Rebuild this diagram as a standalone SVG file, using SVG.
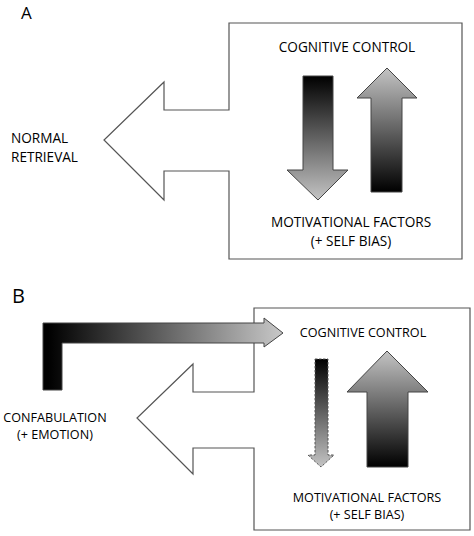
<svg xmlns="http://www.w3.org/2000/svg" width="474" height="536" viewBox="0 0 474 536">
<defs>
<linearGradient id="gDown" x1="0" y1="0" x2="0" y2="1"><stop offset="0" stop-color="#000"/><stop offset="1" stop-color="#c4c4c4"/></linearGradient>
<linearGradient id="gUp" x1="0" y1="1" x2="0" y2="0"><stop offset="0" stop-color="#000"/><stop offset="1" stop-color="#c4c4c4"/></linearGradient>
<linearGradient id="gRight" gradientUnits="userSpaceOnUse" x1="48" y1="0" x2="283" y2="0"><stop offset="0" stop-color="#000"/><stop offset="1" stop-color="#c8c8c8"/></linearGradient>
</defs>
<style>
.box{fill:#fff;stroke:#555;stroke-width:1.2}
.arr{stroke:#444;stroke-width:1}
.dash{stroke:#555;stroke-width:1;stroke-dasharray:2.5,1.5}
text{font-family:"Open Sans","Liberation Sans",sans-serif;fill:#000}
.la{font-size:17px}
.lbl{font-size:20px}
.ta{font-size:13.6px}
.tb{font-size:12.6px}
.m{text-anchor:middle}
</style>
<rect width="474" height="536" fill="#fff"/>
<g id="panelA">
<text class="la" x="21" y="19">A</text>
<g id="A-box"><path class="box" d="M229,23 H462 V259 H229 V171 H164 V200 L104,140 L164,82 V110 H229 Z"/></g>
<g id="A-normal"><text class="ta" x="11" y="143">NORMAL</text><text class="ta" x="11" y="162">RETRIEVAL</text></g>
<g id="A-cog"><text class="ta m" x="347" y="52">COGNITIVE CONTROL</text></g>
<g id="A-mot"><text class="ta m" x="351" y="227">MOTIVATIONAL FACTORS</text><text class="ta m" x="351" y="245.5">(+ SELF BIAS)</text></g>
<g id="A-connectors">
<path class="arr" fill="url(#gDown)" d="M303,76 H333 V170 H348 L318,200 L287,170 H303 Z"/>
<path class="arr" fill="url(#gUp)" d="M371,192 V98 H357 L387,68 L417,98 H402 V192 Z"/>
</g>
</g>
<g id="panelB">
<text class="lbl" x="12" y="303">B</text>
<g id="B-box"><path class="box" d="M254,308 H470 V530 H254 V448 H193 V474 L137,418 L193,364 V392 H254 Z"/></g>
<g id="B-conf"><text class="tb m" x="55" y="421.5">CONFABULATION</text><text class="tb m" x="55" y="439">(+ EMOTION)</text></g>
<g id="B-cog"><text class="tb m" x="363" y="337">COGNITIVE CONTROL</text></g>
<g id="B-mot"><text class="tb m" x="367" y="501.5">MOTIVATIONAL FACTORS</text><text class="tb m" x="367" y="519">(+ SELF BIAS)</text></g>
<g id="B-connectors">
<path class="arr" fill="url(#gRight)" d="M43,390 V323 H264 V318 L283,333 L264,347 V343 H62 V390 Z"/>
<path class="dash" fill="url(#gDown)" d="M315,359 H328 V455 H334 L321,467 L308,455 H315 Z"/>
<path class="arr" fill="url(#gUp)" d="M367,467 V392 H347 L387,351 L428,392 H408 V467 Z"/>
</g>
</g>
</svg>
